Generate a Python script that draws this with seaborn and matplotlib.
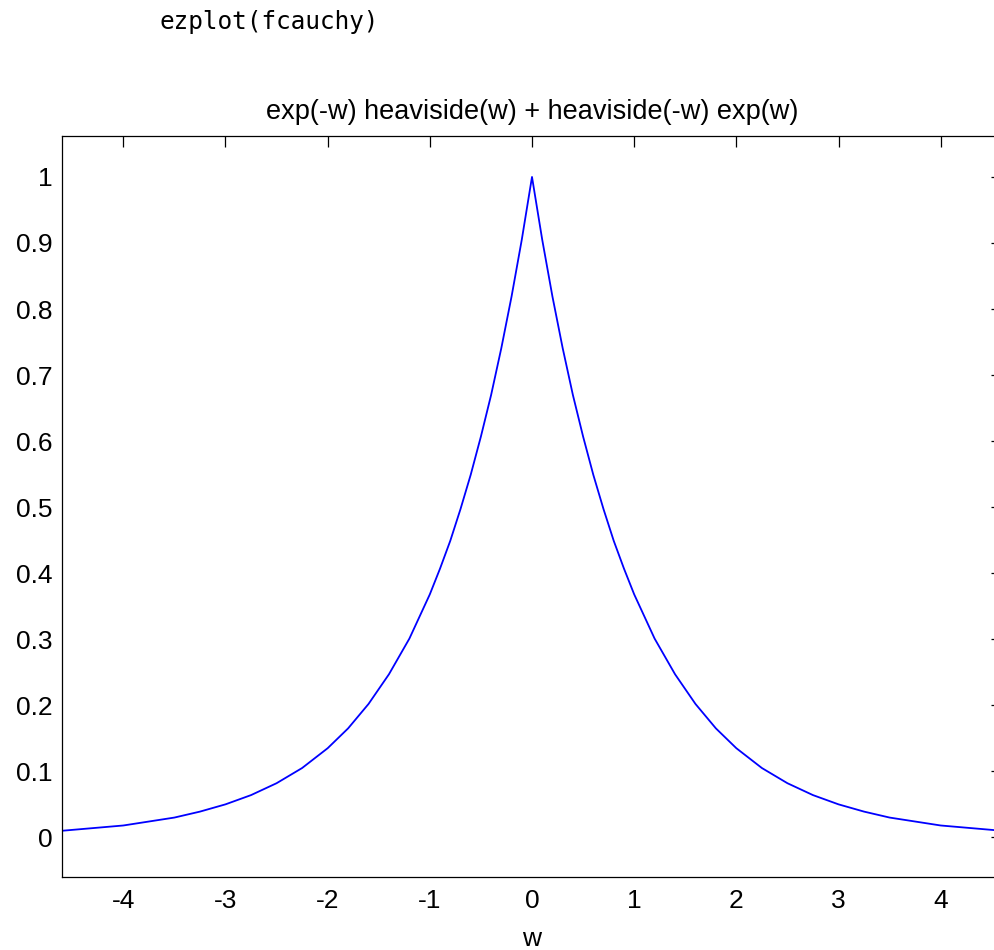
import matplotlib
matplotlib.use("Agg")
import matplotlib.pyplot as plt
import seaborn as sns
import pandas as pd

# values
w_values = [-4.6, -4.3, -4.0, -3.75, -3.5, -3.25, -3.0, -2.75, -2.5, -2.25, -2.0, -1.8, -1.6, -1.4, -1.2,
            -1.0, -0.9, -0.8, -0.7, -0.6, -0.5, -0.4, -0.3, -0.2, -0.1, 0.0,
            0.1, 0.2, 0.3, 0.4, 0.5, 0.6, 0.7, 0.8, 0.9, 1.0,
            1.2, 1.4, 1.6, 1.8, 2.0, 2.25, 2.5, 2.75, 3.0, 3.25, 3.5, 3.75, 4.0, 4.3, 4.6]
f_values = [0.010, 0.014, 0.018, 0.024, 0.030, 0.039, 0.050, 0.064, 0.082, 0.105, 0.135, 0.165, 0.202, 0.247, 0.301,
            0.368, 0.407, 0.449, 0.497, 0.549, 0.607, 0.670, 0.741, 0.819, 0.905, 1.000,
            0.905, 0.819, 0.741, 0.670, 0.607, 0.549, 0.497, 0.449, 0.407, 0.368,
            0.301, 0.247, 0.202, 0.165, 0.135, 0.105, 0.082, 0.064, 0.050, 0.039, 0.030, 0.024, 0.018, 0.014, 0.010]
x_ticks = [-4, -3, -2, -1, 0, 1, 2, 3, 4]
y_ticks = [0, 0.1, 0.2, 0.3, 0.4, 0.5, 0.6, 0.7, 0.8, 0.9, 1]
y_tick_labels = ["0", "0.1", "0.2", "0.3", "0.4", "0.5", "0.6", "0.7", "0.8", "0.9", "1"]
title_text = "exp(-w) heaviside(w) + heaviside(-w) exp(w)"
command_text = "ezplot(fcauchy)"

sns.set_style("white")
plt.rcParams['font.family'] = ['Liberation Sans', 'DejaVu Sans']
plt.rcParams['text.color'] = 'black'

df = pd.DataFrame({"w": w_values, "f": f_values})

fig = plt.figure(figsize=(9.95, 9.5), dpi=100)
ax = fig.add_axes([62 / 995, 1 - 877 / 950, (1002 - 62) / 995, (877 - 136) / 950])
sns.lineplot(data=df, x="w", y="f", ax=ax, color=(0, 0, 1), linewidth=1.3,
             sort=False, estimator=None)

ax.set_xlim(-4.6, 4.6)
ax.set_ylim(-0.06, 1.062)
ax.set_xticks(x_ticks)
ax.set_xticklabels([str(t) for t in x_ticks])
ax.set_yticks(y_ticks)
ax.set_yticklabels(y_tick_labels)
ax.tick_params(direction="in", length=8, width=0.9, top=True, right=True,
               labelsize=19, colors="black", pad=7)
ax.tick_params(axis="x", pad=9)
for s in ax.spines.values():
    s.set_visible(True)
    s.set_color("black")
    s.set_linewidth(0.9)
ax.set_xlabel("w", fontsize=19, labelpad=10, color="black")
ax.set_ylabel("")
ax.set_title(title_text, fontsize=19.5, pad=12, color="black")

fig.text(160 / 995, 1 - 22 / 950, command_text, family="DejaVu Sans Mono",
         fontsize=17.6, ha="left", va="center", color="black")

fig.savefig("out.png", dpi=100)
